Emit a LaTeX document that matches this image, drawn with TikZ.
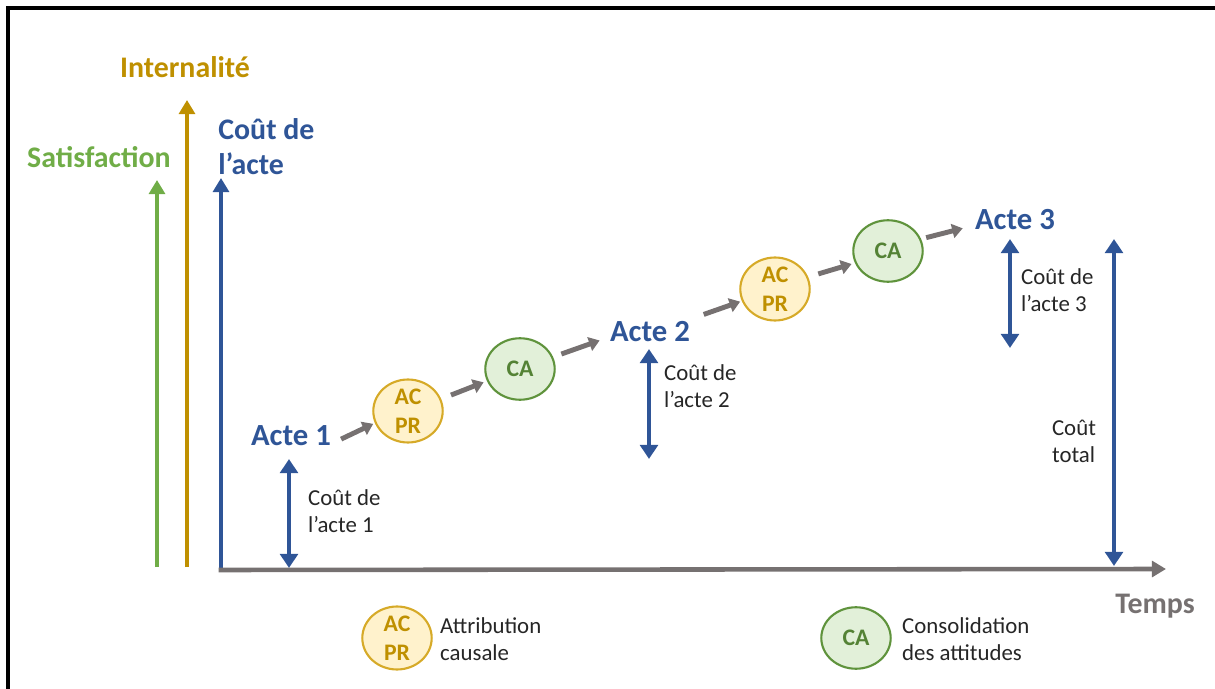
\documentclass[tikz,border=0pt]{standalone}
\usepackage{fontspec}
\setmainfont{Carlito}
\usetikzlibrary{arrows.meta,shapes.geometric}

\definecolor{bleu}{RGB}{47,85,151}
\definecolor{vert}{RGB}{112,173,71}
\definecolor{vertfonce}{RGB}{84,130,53}
\definecolor{vertclair}{RGB}{226,240,217}
\definecolor{or}{RGB}{191,144,0}
\definecolor{orbord}{RGB}{214,170,40}
\definecolor{jauneclair}{RGB}{255,242,204}
\definecolor{gris}{RGB}{118,113,113}

\tikzset{
  axe/.style={line width=2.3pt, -{Triangle[width=9pt,length=8pt]}},
  cout/.style={line width=2.8pt, bleu, {Triangle[width=10pt,length=8pt]}-{Triangle[width=10pt,length=8pt]}},
  fleche/.style={line width=2.8pt, gris, -{Triangle[width=8pt,length=6pt]}},
  acte/.style={font=\fontsize{17.5}{20}\selectfont\bfseries, text=bleu, inner sep=2pt},
  titre/.style={font=\fontsize{17}{20}\selectfont\bfseries},
  lbl/.style={font=\fontsize{13}{15.5}\selectfont, text=black!85, align=left},
  acpr/.style={ellipse, draw=orbord, fill=jauneclair, line width=1.2pt, text=or,
    minimum width=39.5pt, minimum height=35pt, inner sep=0pt, align=center,
    font=\fontsize{13.5}{16.5}\selectfont\bfseries},
  ca/.style={ellipse, draw=vert!85!black, fill=vertclair, line width=1.2pt, text=vertfonce,
    minimum width=39.5pt, minimum height=35pt, inner sep=0pt,
    font=\fontsize{13.5}{16}\selectfont\bfseries}
}

\begin{document}
\begin{tikzpicture}[x=0.02cm, y=-0.02cm]
  \useasboundingbox (0,0) rectangle (1215,689);
  % frame
  \draw[line width=1.8pt] (8,689) -- (8,8) -- (1215,8);
  % axes
  \coordinate (o) at (221,570);
  \coordinate (ytop) at (221,178);
  \coordinate (xend) at (1166,569);
  \coordinate (sbas) at (157,567);
  \coordinate (shaut) at (157,180);
  \coordinate (ibas) at (187,567);
  \coordinate (ihaut) at (187,100);
  \draw[axe, vert] (sbas) -- (shaut);
  \draw[axe, or] (ibas) -- (ihaut);
  \draw[axe, bleu] (o) -- (ytop);
  \draw[axe, gris, line width=2.6pt] ([xshift=-1.3pt]o.center) -- (xend);
  \node[titre, text=vert] (satis) at (99,157) {Satisfaction};
  \node[titre, text=or] (intern) at (185,67) {Internalité};
  \node[titre, text=bleu, align=left, anchor=west, inner sep=0pt] (coutacte) at (218,147) {Coût de\\l’acte};
  \node[titre, text=gris] (temps) at (1155,606) {Temps};
  % actes and steps
  \node[acte] (a1) at (291,436) {Acte 1};
  \node[acpr] (p1) at (408,411) {AC\\PR};
  \node[ca] (c1) at (520,369) {CA};
  \node[acte] (a2) at (650,332) {Acte 2};
  \node[acpr] (p2) at (775,289) {AC\\PR};
  \node[ca] (c2) at (888,251) {CA};
  \node[acte] (a3) at (1015,220) {Acte 3};
  \draw[fleche, shorten <=4pt, shorten >=1pt] (a1.-8) -- (p1.200);
  \draw[fleche, shorten <=6pt, shorten >=2pt] (p1.20) -- (c1.200);
  \draw[fleche, shorten <=5pt, shorten >=4pt] (c1.20) -- (a2.188);
  \draw[fleche, shorten <=6pt, shorten >=1pt] (a2.north east) -- (p2.200);
  \draw[fleche, shorten <=6pt, shorten >=2pt] (p2.20) -- (c2.200);
  \draw[fleche, shorten <=3pt, shorten >=5pt] (c2.20) -- (a3.188);
  % costs
  \coordinate (k1h) at (289,459);
  \coordinate (k1b) at (289,568);
  \coordinate (k2h) at (649,349);
  \coordinate (k2b) at (649,459);
  \coordinate (k3h) at (1010,239);
  \coordinate (k3b) at (1010,348);
  \coordinate (kth) at (1114,239);
  \coordinate (ktb) at (1114,566);
  \draw[cout] (k1h) -- (k1b);
  \draw[cout] (k2h) -- (k2b);
  \draw[cout] (k3h) -- (k3b);
  \draw[cout] (kth) -- (ktb);
  \node[lbl, anchor=west] (l1) at (302,511) {Coût de\\l’acte 1};
  \node[lbl, anchor=west] (l2) at (658,386) {Coût de\\l’acte 2};
  \node[lbl, anchor=west] (l3) at (1015,290) {Coût de\\l’acte 3};
  \node[lbl] (lt) at (1074,441) {Coût\\total};
  % legend
  \node[acpr] (legp) at (397,638) {AC\\PR};
  \node[lbl, anchor=west] (legpt) at (434,639) {Attribution\\causale};
  \node[ca] (legc) at (856,638) {CA};
  \node[lbl, anchor=west] (legct) at (896,639) {Consolidation\\des attitudes};
\end{tikzpicture}
\end{document}
